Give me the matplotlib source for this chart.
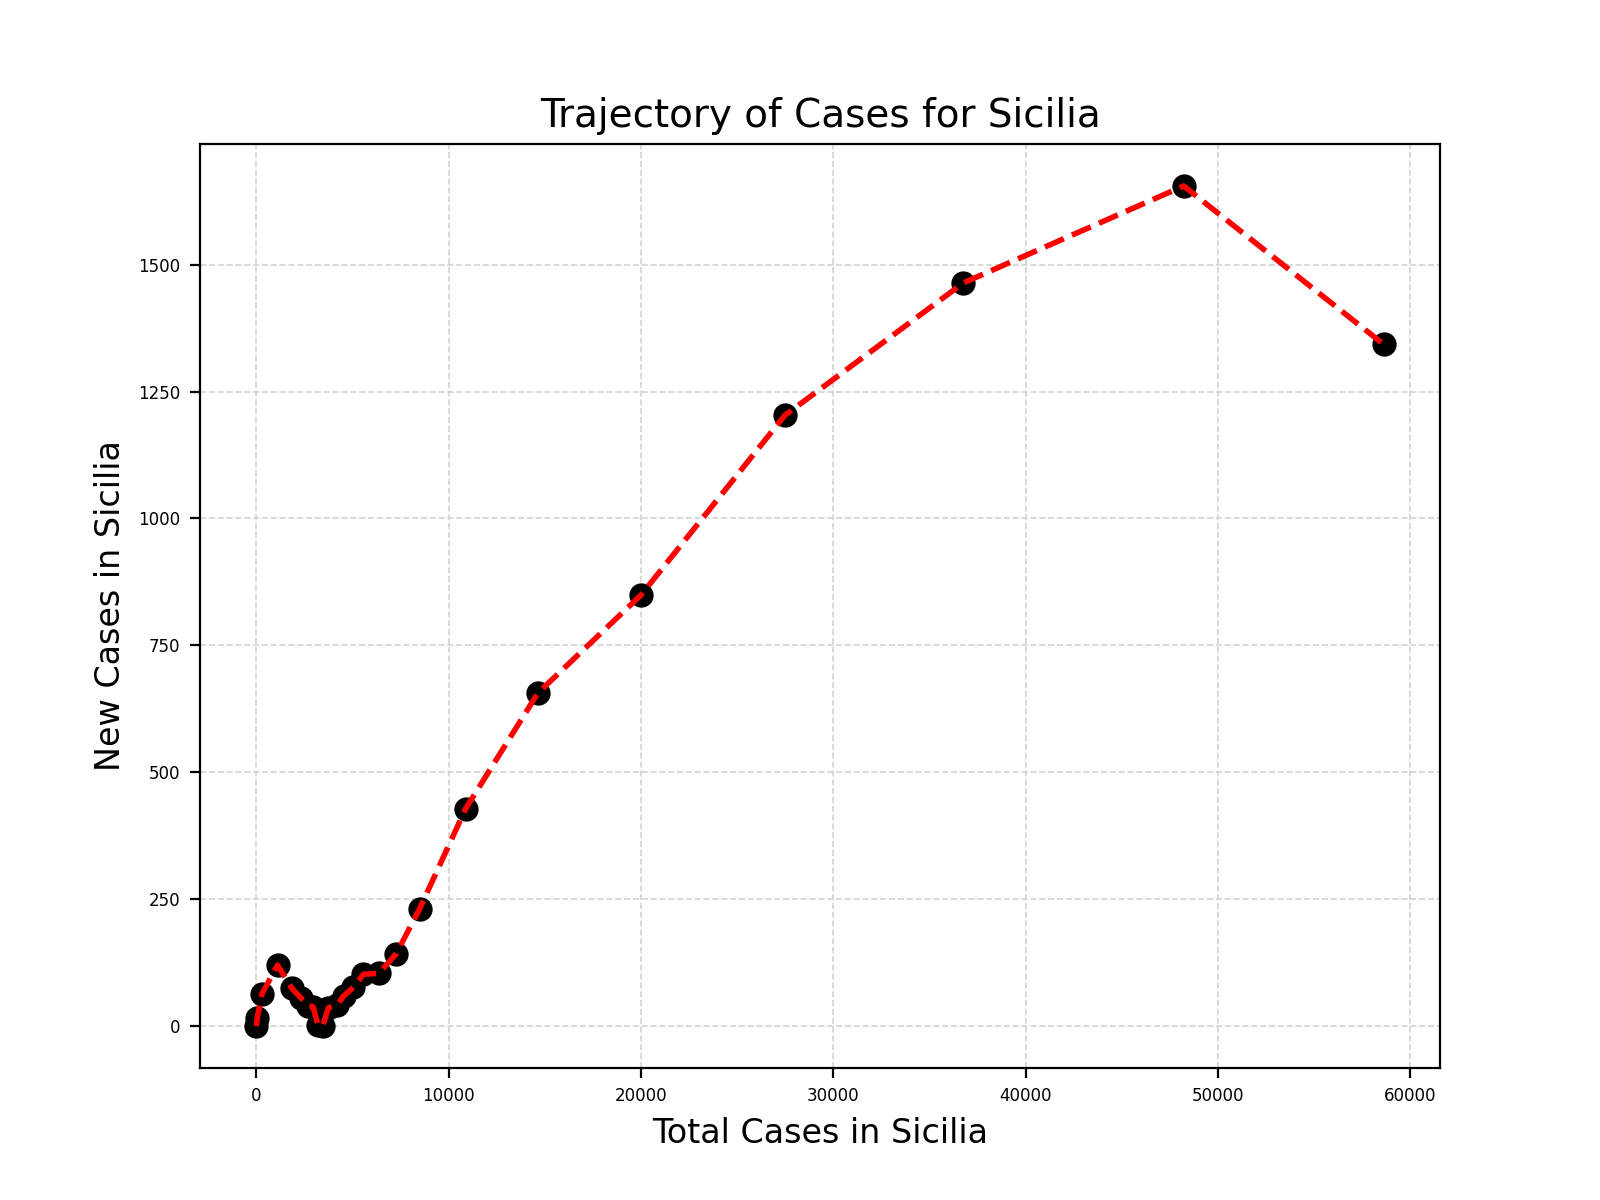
import matplotlib
matplotlib.use("Agg")
import matplotlib.pyplot as plt

total_cases = [0, 40, 300, 1100, 1850, 2300, 2700, 2950, 3200, 3450, 3750, 4200, 4560, 5040, 5570, 6370, 7270, 8490, 10880, 14640, 20000, 27480, 36760, 48220, 58620]
new_cases = [0, 15, 64, 120, 74, 56, 40, 38, 2, 0, 36, 42, 60, 76, 102, 104, 142, 231, 428, 656, 849, 1203, 1464, 1655, 1343]

fig, ax = plt.subplots(figsize=(8, 6), dpi=200)
ax.scatter(total_cases, new_cases, color="black", s=60, zorder=2)
ax.plot(total_cases, new_cases, color="red", linestyle="--", linewidth=2, zorder=3)
ax.set_title("Trajectory of Cases for Sicilia", fontsize=14)
ax.set_xlabel("Total Cases in Sicilia", fontsize=12)
ax.set_ylabel("New Cases in Sicilia", fontsize=12)
ax.tick_params(labelsize=6)
ax.set_yticks([0, 250, 500, 750, 1000, 1250, 1500])
ax.grid(True, linestyle="--", color="lightgray", linewidth=0.6)
fig.savefig("out.png")
